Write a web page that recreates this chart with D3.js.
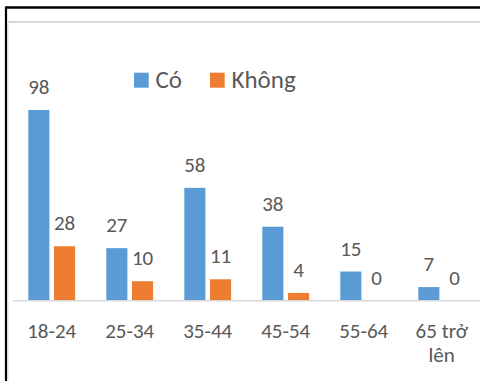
<!DOCTYPE html>
<html>
<head>
<meta charset="utf-8">
<script src="https://cdn.jsdelivr.net/npm/d3@7"></script>
<style>
  html, body { margin: 0; padding: 0; background: #fff; }
  svg { display: block; }
  text { font-family: Carlito, Calibri, Lato, "Open Sans", sans-serif; fill: #595959; }
</style>
</head>
<body>
<svg id="chart" width="480" height="381"></svg>
<script>
// Age groups and survey answers
const categories = ["18-24", "25-34", "35-44", "45-54", "55-64", "65 trở lên"];
const seriesNames = ["Có", "Không"];
const coValues = [98, 27, 58, 38, 15, 7];
const khongValues = [28, 10, 11, 4, 0, 0];
const colors = ["#5b9bd5", "#ed7d31"];

const W = 480, H = 381;
const svg = d3.select("#chart");

// outer frame: black top/left edge, light inner chart-area edge
svg.append("line").attr("x1", 6).attr("x2", W).attr("y1", 7.5).attr("y2", 7.5)
  .attr("stroke", "#000").attr("stroke-width", 2.5);
svg.append("line").attr("x1", 6).attr("x2", 6).attr("y1", 6.5).attr("y2", H)
  .attr("stroke", "#000").attr("stroke-width", 2.2);
svg.append("line").attr("x1", 7.5).attr("x2", W).attr("y1", 22).attr("y2", 22)
  .attr("stroke", "#d9d9d9").attr("stroke-width", 2);
svg.append("line").attr("x1", 7.8).attr("x2", 7.8).attr("y1", 21).attr("y2", H)
  .attr("stroke", "#d9d9d9").attr("stroke-width", 1.2);

// plot geometry
const baseY = 300.7;
const plotLeft = 12.7, step = 78;
const x0 = d3.scaleBand().domain(categories)
  .range([plotLeft, plotLeft + step * categories.length]).paddingInner(0).paddingOuter(0);
const x1 = d3.scaleBand().domain(seriesNames).range([15.6, step - 15.6]).paddingInner(0.18);
const y = d3.scaleLinear().domain([0, 120]).range([baseY, baseY - 120 * 1.946]);

const rows = categories.map((c, i) => ({ cat: c, vals: [coValues[i], khongValues[i]] }));

const groups = svg.append("g").selectAll("g").data(rows).join("g")
  .attr("transform", d => `translate(${x0(d.cat)},0)`);

groups.selectAll("rect").data(d => d.vals.map((v, k) => ({ v, k })))
  .join("rect")
  .attr("x", d => x1(seriesNames[d.k]))
  .attr("width", x1.bandwidth())
  .attr("y", d => y(d.v))
  .attr("height", d => baseY - y(d.v))
  .attr("fill", d => colors[d.k]);

groups.selectAll("text.val").data(d => d.vals.map((v, k) => ({ v, k })))
  .join("text").attr("class", "val")
  .attr("x", d => x1(seriesNames[d.k]) + x1.bandwidth() / 2)
  .attr("y", d => y(d.v) - 16)
  .attr("text-anchor", "middle")
  .style("font-size", "21px")
  .text(d => d.v);

// category axis
const xAxis = d3.axisBottom(x0).tickSize(0).tickPadding(0);
const axisG = svg.append("g").attr("transform", `translate(0,${baseY})`).call(xAxis);
axisG.select(".domain").attr("stroke", "#d9d9d9").attr("stroke-width", 1.5)
  .attr("d", `M${plotLeft},0H${W}`);
axisG.selectAll(".tick text").each(function(d) {
  const t = d3.select(this);
  t.text(null).attr("y", 0).attr("dy", null)
    .style("font-size", "21px").attr("fill", "#595959");
  // wrap long labels onto two lines
  const lines = d === "65 trở lên" ? ["65 trở", "lên"] : [d];
  lines.forEach((ln, i) => {
    t.append("tspan").attr("x", 0).attr("y", 37 + i * 24).text(ln);
  });
});

// legend
const legend = svg.append("g");
const legendX = [134, 210];
seriesNames.forEach((name, k) => {
  legend.append("rect").attr("x", legendX[k]).attr("y", 72.7)
    .attr("width", 14.7).attr("height", 15).attr("fill", colors[k]);
  legend.append("text").attr("x", legendX[k] + 21.5).attr("y", 88.3)
    .style("font-size", "25px").text(name);
});
</script>
</body>
</html>
